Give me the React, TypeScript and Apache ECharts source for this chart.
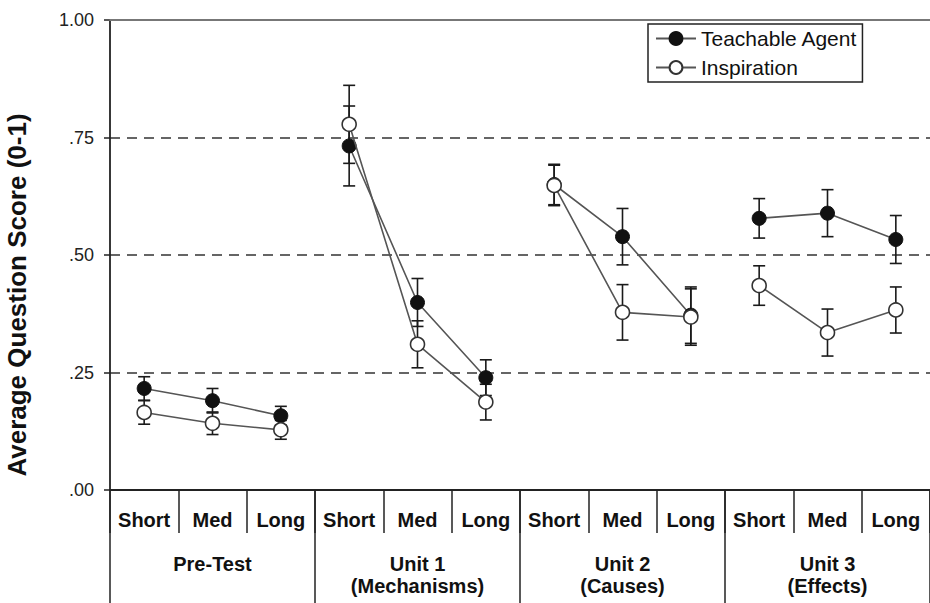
import React, { useEffect, useRef } from "react";
import * as echarts from "echarts";

const categories = ["Short", "Med", "Long", "Short", "Med", "Long", "Short", "Med", "Long", "Short", "Med", "Long"];
const groups = ["Pre-Test", "Unit 1\n(Mechanisms)", "Unit 2\n(Causes)", "Unit 3\n(Effects)"];
const yTicks = [0, 0.25, 0.5, 0.75, 1];
const yTickLabels = [".00", ".25", ".50", ".75", "1.00"];

const taMean = [0.216, 0.19, 0.158, 0.732, 0.399, 0.239, 0.65, 0.539, 0.372, 0.578, 0.589, 0.533];
const taErr = [0.025, 0.026, 0.02, 0.085, 0.051, 0.038, 0.043, 0.06, 0.06, 0.042, 0.05, 0.051];
const inMean = [0.165, 0.142, 0.128, 0.778, 0.31, 0.187, 0.648, 0.378, 0.368, 0.435, 0.335, 0.383];
const inErr = [0.025, 0.024, 0.02, 0.083, 0.05, 0.038, 0.043, 0.059, 0.06, 0.042, 0.05, 0.049];

const FONT = "'Liberation Sans', Arial, Helvetica, sans-serif";

function groupData(values: number[], g: number) {
  return values.map((v, i) => (Math.floor(i / 3) === g ? v : "-"));
}

function errData(mean: number[], err: number[]) {
  return mean.map((m, i) => [i, m - err[i], m + err[i]]);
}

const errRender = (params: any, api: any) => {
  const x = api.value(0);
  const p1 = api.coord([x, api.value(1)]);
  const p2 = api.coord([x, api.value(2)]);
  const w = 6;
  const style = { stroke: "#1a1a1a", lineWidth: 1.6 };
  return {
    type: "group",
    children: [
      { type: "line", shape: { x1: p1[0], y1: p1[1], x2: p2[0], y2: p2[1] }, style },
      { type: "line", shape: { x1: p1[0] - w, y1: p1[1], x2: p1[0] + w, y2: p1[1] }, style },
      { type: "line", shape: { x1: p2[0] - w, y1: p2[1], x2: p2[0] + w, y2: p2[1] }, style },
    ],
  };
};

export default function App() {
  const ref = useRef<HTMLDivElement>(null);
  useEffect(() => {
    document.body.style.margin = "0";
    const chart = echarts.init(ref.current!, null, { renderer: "svg" });
    const series: any[] = [];
    series.push({
      type: "custom",
      name: "taErr",
      renderItem: errRender,
      data: errData(taMean, taErr),
      encode: { x: 0, y: [1, 2] },
      z: 1,
    });
    series.push({
      type: "custom",
      name: "inErr",
      renderItem: errRender,
      data: errData(inMean, inErr),
      encode: { x: 0, y: [1, 2] },
      z: 1,
    });
    for (let g = 0; g < 4; g++) {
      series.push({
        type: "line",
        name: "Teachable Agent",
        data: groupData(taMean, g),
        symbol: "circle",
        symbolSize: 14,
        itemStyle: { color: "#111", borderColor: "#111", borderWidth: 1 },
        lineStyle: { color: "#555", width: 1.6 },
        z: 3,
      });
    }
    for (let g = 0; g < 4; g++) {
      series.push({
        type: "line",
        name: "Inspiration",
        data: groupData(inMean, g),
        symbol: "circle",
        symbolSize: 14,
        itemStyle: { color: "#fff", borderColor: "#333", borderWidth: 1.6 },
        lineStyle: { color: "#555", width: 1.6 },
        z: 4,
      });
    }
    chart.setOption({
      animation: false,
      textStyle: { fontFamily: FONT },
      grid: { left: 110, right: 0, top: 20, bottom: 113 },
      legend: {
        data: ["Teachable Agent", "Inspiration"],
        orient: "vertical",
        left: 648,
        top: 24,
        padding: [4, 5, 4, 7],
        itemWidth: 40,
        itemHeight: 16,
        itemGap: 8,
        borderColor: "#222",
        borderWidth: 1.5,
        selectedMode: false,
        textStyle: { fontFamily: FONT, fontSize: 21, lineHeight: 21, color: "#111" },
      },
      xAxis: [
        {
          type: "category",
          data: categories,
          position: "bottom",
          boundaryGap: true,
          z: 5,
          axisLine: { show: true, lineStyle: { color: "#222", width: 1.8 } },
          axisTick: { show: true, interval: 0, length: 43, lineStyle: { color: "#222", width: 1.5 } },
          axisLabel: { interval: 0, margin: 20, fontSize: 20, fontWeight: "bold", color: "#111", fontFamily: FONT },
        },
        {
          type: "category",
          data: groups,
          position: "bottom",
          boundaryGap: true,
          axisLine: { show: false },
          axisTick: { show: true, interval: 0, length: 115, lineStyle: { color: "#222", width: 1.5 } },
          axisLabel: {
            interval: 0,
            margin: 63,
            fontSize: 20,
            lineHeight: 22,
            fontWeight: "bold",
            color: "#111",
            fontFamily: FONT,
          },
        },
        {
          type: "category",
          data: categories,
          position: "top",
          z: 5,
          axisLine: { show: true, lineStyle: { color: "#777", width: 2 } },
          axisTick: { show: false },
          axisLabel: { show: false },
        },
      ],
      yAxis: {
        type: "value",
        min: 0,
        max: 1,
        interval: 0.25,
        axisLine: { show: true, lineStyle: { color: "#222", width: 1.8 } },
        axisTick: { show: true, length: 6, lineStyle: { color: "#222", width: 1.5 } },
        axisLabel: {
          margin: 16,
          fontSize: 18,
          color: "#222",
          fontFamily: FONT,
          formatter: (v: number) => {
            const idx = yTicks.findIndex((t) => Math.abs(t - v) < 1e-6);
            return idx >= 0 ? yTickLabels[idx] : "";
          },
        },
        splitLine: { show: true, lineStyle: { color: "#333", width: 1.5, type: [10, 7] } },
      },
      graphic: [
        {
          type: "text",
          x: 17,
          y: 295,
          rotation: Math.PI / 2,
          style: {
            text: "Average Question Score (0-1)",
            fontFamily: FONT,
            fontSize: 26,
            fontWeight: "bold",
            fill: "#111",
            align: "center",
            verticalAlign: "middle",
          },
        },
      ],
      series,
    });
    return () => chart.dispose();
  }, []);
  return <div ref={ref} style={{ width: 930, height: 603 }} />;
}
